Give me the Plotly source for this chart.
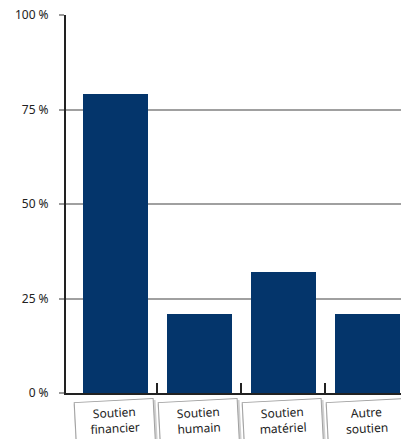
import plotly.graph_objects as go

categories = ["Soutien<br>financier", "Soutien<br>humain", "Soutien<br>matériel", "Autre<br>soutien"]
values = [79, 21, 32, 21]
ytick_vals = [0, 25, 50, 75, 100]
ytick_text = ["0 %", "25 %", "50 %", "75 %", "100 %"]

xpos = list(range(len(categories)))
navy = "#04356b"

fig = go.Figure()
fig.add_trace(go.Bar(x=xpos, y=values, width=0.77, marker=dict(color=navy, line=dict(width=0)),
                     hoverinfo="skip"))

annotations = []
for i, cat in enumerate(categories):
    # shadow box (no text)
    annotations.append(dict(x=i, xref="x", y=-0.014, yref="paper", yanchor="top", xanchor="center",
                            xshift=1, yshift=-2,
                            text="&nbsp;", showarrow=False, textangle=-3,
                            font=dict(family="Noto Sans", size=12, color="rgba(0,0,0,0)"),
                            bgcolor="#d0d0d0", bordercolor="#d0d0d0", borderwidth=2,
                            width=72, height=44, valign="top", borderpad=3))
    annotations.append(dict(x=i, xref="x", y=-0.014, yref="paper", yanchor="top", xanchor="center",
                            text=cat, showarrow=False, textangle=-3,
                            font=dict(family="Noto Sans", size=12, color="#222"),
                            bgcolor="white", bordercolor="#a0a0a0", borderwidth=1,
                            width=72, height=44, valign="top", borderpad=3))

fig.update_layout(
    width=401, height=439,
    margin=dict(l=66, r=0, t=15, b=46),
    plot_bgcolor="white", paper_bgcolor="white",
    showlegend=False,
    bargap=0,
    annotations=annotations,
    xaxis=dict(range=[-0.589, 3.399], tickmode="array", tickvals=[0.5, 1.5, 2.5],
               ticktext=["", "", ""], ticks="inside", ticklen=10, tickwidth=1.5, tickcolor="#222",
               showgrid=False, zeroline=False, showline=True, linecolor="#222", linewidth=2,
               fixedrange=True),
    yaxis=dict(range=[0, 100], tickmode="array", tickvals=ytick_vals, ticktext=ytick_text,
               ticks="outside", ticklen=5, tickcolor="#999", tickwidth=1.5,
               showgrid=True, gridcolor="#a0a0a0", gridwidth=1.5,
               zeroline=False, showline=True, linecolor="#222", linewidth=2,
               tickfont=dict(family="Noto Sans", size=12, color="#222"), ticklabelstandoff=8,
               fixedrange=True),
)

fig.write_html("out.html", config={"displayModeBar": False},
               post_script="document.body.style.margin='0';document.body.style.overflow='hidden';")
